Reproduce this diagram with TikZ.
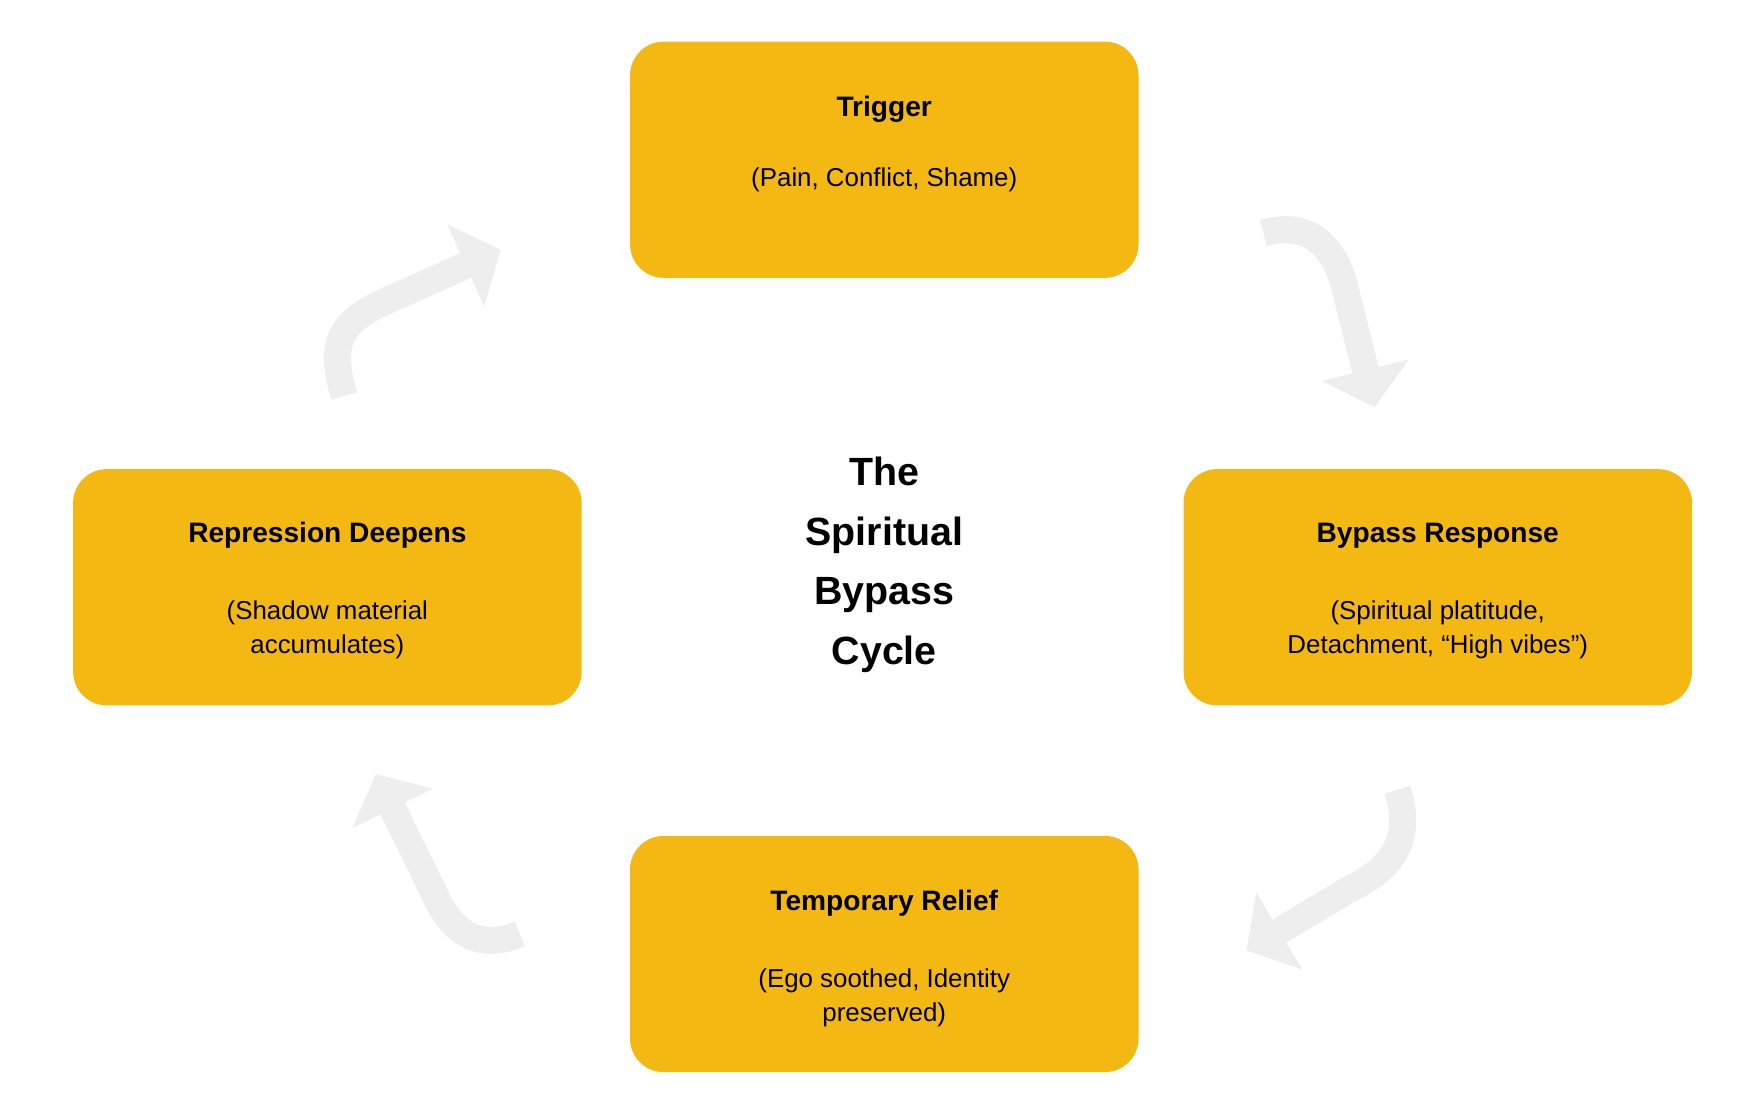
\documentclass[tikz,border=0pt]{standalone}
\usepackage{fontspec}
\setmainfont{Liberation Sans}
\usetikzlibrary{arrows.meta}
\definecolor{gold}{HTML}{F3B811}
\definecolor{arr}{HTML}{EEEEEE}
\begin{document}
\begin{tikzpicture}[x=1pt,y=-1pt,
 box/.style={fill=gold,rounded corners=30pt,minimum width=452pt,minimum height=210pt,inner sep=0},
 ttl/.style={font=\fontsize{25}{30}\selectfont\bfseries},
 sub/.style={font=\fontsize{23}{30}\selectfont,align=center},
 carr/.style={draw=arr,line width=24pt,-{Triangle[length=34pt,width=78pt]}}]
\useasboundingbox (0,0) rectangle (1568,981);
\node[box] (trig) at (786,142) {};
\node[box] (rep) at (291,522) {};
\node[box] (byp) at (1278,522) {};
\node[box] (temp) at (786,848) {};
\node[ttl] (t1) at (786,97) {Trigger};
\node[sub] (s1) at (786,160) {(Pain, Conflict, Shame)};
\node[ttl] (t2) at (291,476) {Repression Deepens};
\node[sub] (s2) at (291,560) {(Shadow material\\accumulates)};
\node[ttl] (t3) at (1278,476) {Bypass Response};
\node[sub] (s3) at (1278,560) {(Spiritual platitude,\\Detachment, “High vibes”)};
\node[ttl] (t4) at (786,803) {Temporary Relief};
\node[sub] (s4) at (786,887) {(Ego soothed, Identity\\preserved)};
\node[font=\fontsize{35}{53}\selectfont\bfseries,align=center] (c) at (786,502) {The\\Spiritual\\Bypass\\Cycle};
\coordinate (a1) at (1123,207); \coordinate (b1) at (1222,362);
\coordinate (a2) at (306,352); \coordinate (b2) at (445,222);
\coordinate (a3) at (1242,702); \coordinate (b3) at (1108,845);
\coordinate (a4) at (462,830); \coordinate (b4) at (334,688);
\draw[carr] (a1) .. controls (1165,195) and (1188,222) .. (1196,258) -- (b1);
\draw[carr] (a2) .. controls (290,300) and (308,285) .. (338,270) -- (b2);
\draw[carr] (a3) .. controls (1258,750) and (1232,775) .. (1200,790) -- (b3);
\draw[carr] (a4) .. controls (420,848) and (398,822) .. (385,792) -- (b4);
\end{tikzpicture}
\end{document}
